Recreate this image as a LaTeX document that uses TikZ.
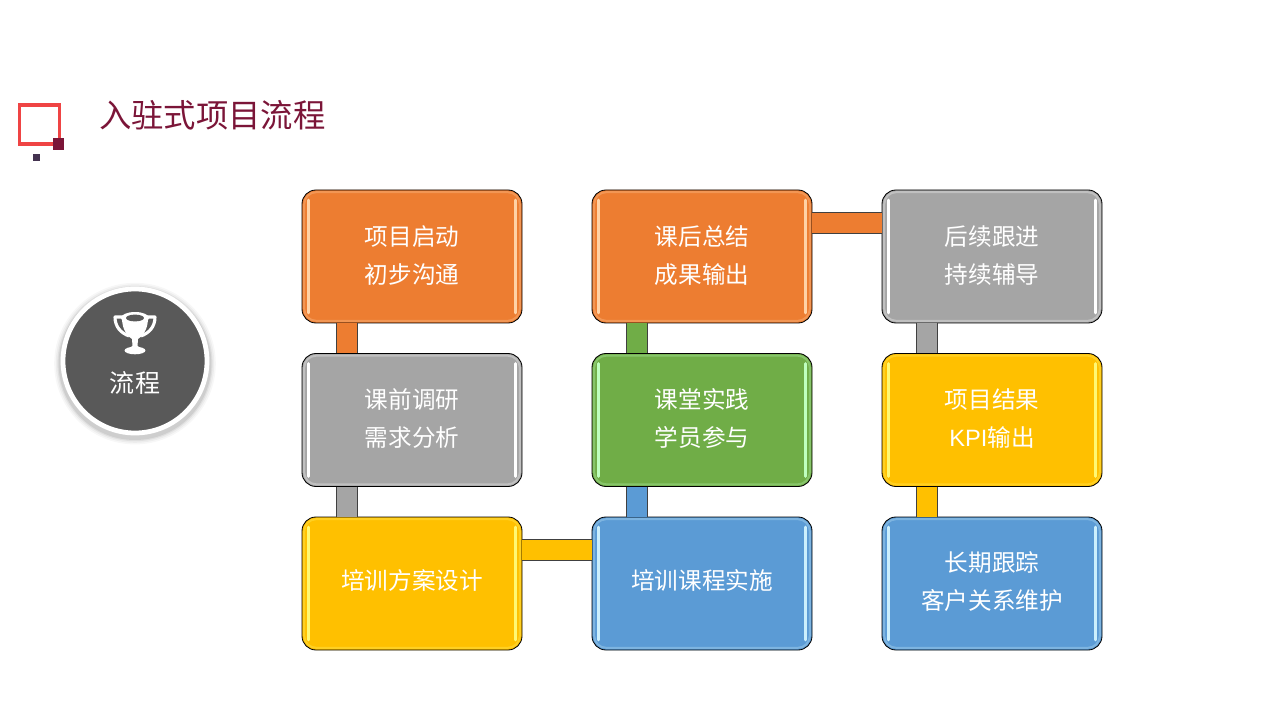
\documentclass[tikz,border=0pt]{standalone}
\usepackage{fontspec}
\setmainfont{Noto Sans CJK SC}
\newfontfamily\latinfont{Liberation Sans}
\usetikzlibrary{positioning}
\definecolor{boxorange}{HTML}{ED7D31}
\definecolor{boxgrey}{HTML}{A5A5A5}
\definecolor{boxgold}{HTML}{FFC000}
\definecolor{boxblue}{HTML}{5B9BD5}
\definecolor{boxgreen}{HTML}{70AD47}
\definecolor{edgegrey}{HTML}{404040}
\definecolor{titlered}{HTML}{7B1538}
\definecolor{markred}{HTML}{EF4444}
\definecolor{markdark}{HTML}{443350}
\definecolor{badgegrey}{HTML}{595959}
\newcommand{\lift}[2][.8pt]{\raisebox{#1}[\height][\depth]{#2}}
\tikzset{
  stagebox/.style={draw=black, line width=.6pt, rounded corners=.35cm, fill=#1, text=white,
    minimum width=5.5cm, minimum height=3.325cm, align=center, inner sep=0pt, outer sep=0pt,
    font=\fontsize{16.8}{27}\selectfont},
  band/.style={draw=edgegrey, line width=.7pt, double=#1, double distance=.51cm},
  gloss/.style={line width=1.8pt, line cap=round, draw=#1}
}
\begin{document}
\begin{tikzpicture}
\useasboundingbox (0,0) rectangle (32,18);

% corner mark and title
\draw[line width=2.2pt, color=markred] (.4875,14.4) rectangle (1.4875,15.375);
\fill[titlered] (1.325,14.25) rectangle (1.6,14.55);
\fill[markdark] (.825,13.975) rectangle (1,14.15);
\node[anchor=west, inner sep=0pt, text=titlered, font=\fontsize{23}{24}\selectfont] (title) at (2.475,15.125) {入驻式项目流程};

% badge
\foreach \r/\o in {2.02/.03,1.98/.04,1.94/.06,1.91/.08}
  \fill[black, opacity=\o] (3.375,8.91) circle (\r);
\node[circle, draw=white, line width=3.4pt, fill=badgegrey, minimum size=3.6cm, inner sep=0pt] (badge) at (3.375,8.975) {};
\node[text=white, font=\fontsize{17.8}{20}\selectfont] (badgetext) at ([yshift=-.55cm]badge.center) {流程};
\begin{scope}[shift={(3.375,9.675)}, x=.025cm, y=-.025cm]
\draw[white, line width=2.2pt, line join=round] (-11,-16) -- (-20,-16) .. controls (-20,-6) and (-14,0) .. (-6,3);
\draw[white, line width=2.2pt, line join=round] (11,-16) -- (20,-16) .. controls (20,-6) and (14,0) .. (6,3);
\fill[white] (-13,-15) .. controls (-13,-3) and (-7,4) .. (-3,6) -- (-2.5,13) .. controls (-2.5,14) and (-3,14) .. (-4,14)
  -- (4,14) .. controls (3,14) and (2.5,14) .. (2.5,13) -- (3,6) .. controls (7,4) and (13,-3) .. (13,-15) -- cycle;
\fill[white] (0,-15) ellipse (14 and 6);
\fill[badgegrey] (0,-15) ellipse (9 and 3.4);
\fill[white] (0,17.5) ellipse (10.5 and 3.8);
\end{scope}

% stages
\node[stagebox=boxorange] (start) at (10.3,11.5875) {\lift{项目启动}\\\lift{初步沟通}};
\node[stagebox=boxgrey, below=.7625cm of start] (survey) {\lift{课前调研}\\\lift{需求分析}};
\node[stagebox=boxgold, below=.7625cm of survey] (design) {\lift[2pt]{培训方案设计}};
\node[stagebox=boxorange, right=1.75cm of start] (review) {\lift{课后总结}\\\lift{成果输出}};
\node[stagebox=boxgreen, below=.7625cm of review] (practice) {\lift{课堂实践}\\\lift{学员参与}};
\node[stagebox=boxblue, below=.7625cm of practice] (deliver) {\lift[2pt]{培训课程实施}};
\node[stagebox=boxgrey, right=1.75cm of review] (follow) {\lift{后续跟进}\\\lift{持续辅导}};
\node[stagebox=boxgold, below=.7625cm of follow] (result) {\lift{项目结果}\\\lift{{\latinfont KPI}输出}};
\node[stagebox=boxblue, below=.7625cm of result] (track) {\lift[1.5pt]{长期跟踪}\\\lift[1.5pt]{客户关系维护}};

% connectors
\draw[band=boxorange] ([xshift=1.125cm]start.south west) -- ([xshift=1.125cm]survey.north west);
\draw[band=boxgrey] ([xshift=1.125cm]survey.south west) -- ([xshift=1.125cm]design.north west);
\draw[band=boxgold] ([yshift=-.825cm]design.north east) -- ([yshift=-.825cm]deliver.north west);
\draw[band=boxblue] ([xshift=1.125cm]deliver.north west) -- ([xshift=1.125cm]practice.south west);
\draw[band=boxgreen] ([xshift=1.125cm]practice.north west) -- ([xshift=1.125cm]review.south west);
\draw[band=boxorange] ([yshift=-.825cm]review.north east) -- ([yshift=-.825cm]follow.north west);
\draw[band=boxgrey] ([xshift=1.125cm]follow.south west) -- ([xshift=1.125cm]result.north west);
\draw[band=boxgold] ([xshift=1.125cm]result.south west) -- ([xshift=1.125cm]track.north west);

% gloss on the box sides
\foreach \n/\c in {start/orange!35!white,review/orange!35!white,follow/white,survey/white,
  result/yellow!55!white,design/yellow!55!white,practice/green!25!white,deliver/cyan!20!white,track/cyan!20!white}{
  \draw[\c, opacity=.3, line width=1.4pt, rounded corners=.3cm] ([shift={(.055,.055)}]\n.south west) rectangle ([shift={(-.055,-.055)}]\n.north east);
  \draw[gloss=\c] ([xshift=.16cm,yshift=-.25cm]\n.north west) -- ([xshift=.16cm,yshift=.25cm]\n.south west);
  \draw[gloss=\c] ([xshift=-.16cm,yshift=-.25cm]\n.north east) -- ([xshift=-.16cm,yshift=.25cm]\n.south east);
}
\end{tikzpicture}
\end{document}
